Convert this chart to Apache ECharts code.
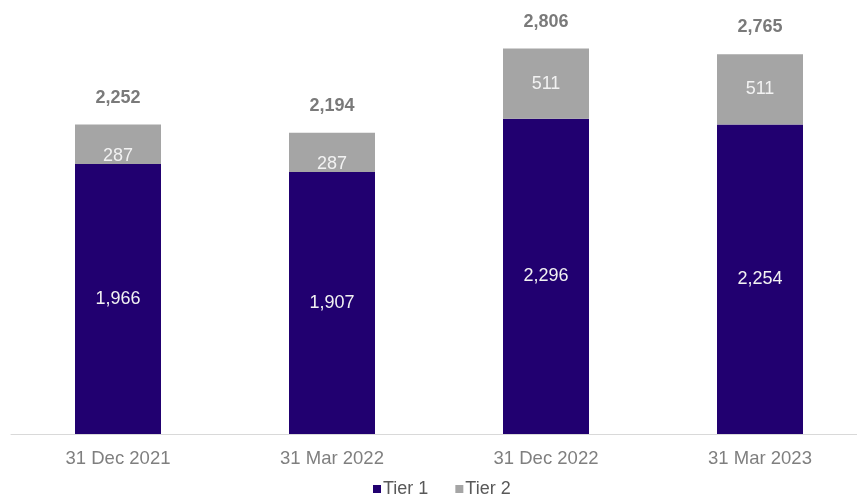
<!DOCTYPE html>
<html>
<head>
<meta charset="utf-8">
<script src="https://cdn.jsdelivr.net/npm/echarts@6/dist/echarts.min.js"></script>
<style>
  html, body { margin: 0; padding: 0; background: #ffffff; overflow: hidden; }
  /* the category band runs a little past the right edge of the window */
  #chart { width: 867px; height: 497px; }
</style>
</head>
<body>
<div id="chart"></div>
<script>
// Capital base by reporting date
const categories = ['31 Dec 2021', '31 Mar 2022', '31 Dec 2022', '31 Mar 2023'];
const tier1 = [1966, 1907, 2296, 2254];
const tier2 = [287, 287, 511, 511];
const totals = [2252, 2194, 2806, 2765];

const fmt = v => v.toLocaleString('en-US');
const FONT = '"Liberation Sans", Arial, sans-serif';

const chart = echarts.init(document.getElementById('chart'));
chart.setOption({
  animation: false,
  textStyle: { fontFamily: FONT },
  grid: { left: 11, top: 22, right: 0, bottom: 63, containLabel: false },
  legend: {
    top: 480,
    left: 373,
    padding: 0,
    itemWidth: 8,
    itemHeight: 8,
    itemGap: 27,
    icon: 'rect',
    textStyle: { color: '#595959', fontSize: 18, fontFamily: FONT, padding: [0, 0, 0, -3], lineHeight: 18 },
    data: ['Tier 1', 'Tier 2']
  },
  xAxis: {
    type: 'category',
    data: categories,
    axisLine: { lineStyle: { color: '#d9d9d9', width: 1 } },
    axisTick: { show: false },
    axisLabel: { color: '#7f7f7f', fontSize: 18.5, margin: 15, fontFamily: FONT }
  },
  yAxis: {
    type: 'value',
    min: 0,
    max: 3000,
    show: false,
    splitLine: { show: false }
  },
  series: [
    {
      name: 'Tier 1',
      type: 'bar',
      stack: 'capital',
      barWidth: 86,
      data: tier1,
      itemStyle: { color: '#210070' },
      label: {
        show: true,
        position: 'inside',
        color: '#f2f2f2',
        fontSize: 18,
        fontFamily: FONT,
        formatter: p => fmt(p.value)
      }
    },
    {
      name: 'Tier 2',
      type: 'bar',
      stack: 'capital',
      barWidth: 86,
      data: tier2.map(v => ({
        value: v,
        label: v < 400 ? { offset: [0, 12] } : {}
      })),
      itemStyle: { color: '#a5a5a5' },
      label: {
        show: true,
        position: 'inside',
        color: '#f2f2f2',
        fontSize: 18,
        fontFamily: FONT,
        formatter: p => fmt(p.value)
      }
    },
    {
      // invisible carrier for the stack totals above each column
      name: 'Total',
      type: 'scatter',
      data: totals,
      symbol: 'circle',
      symbolSize: 2,
      itemStyle: { color: 'rgba(0,0,0,0)' },
      silent: true,
      z: 5,
      label: {
        show: true,
        position: 'top',
        distance: 17,
        color: '#595959',
        fontSize: 18,
        fontWeight: 'bold',
        fontFamily: FONT,
        formatter: p => fmt(p.value)
      }
    }
  ]
});
</script>
</body>
</html>
